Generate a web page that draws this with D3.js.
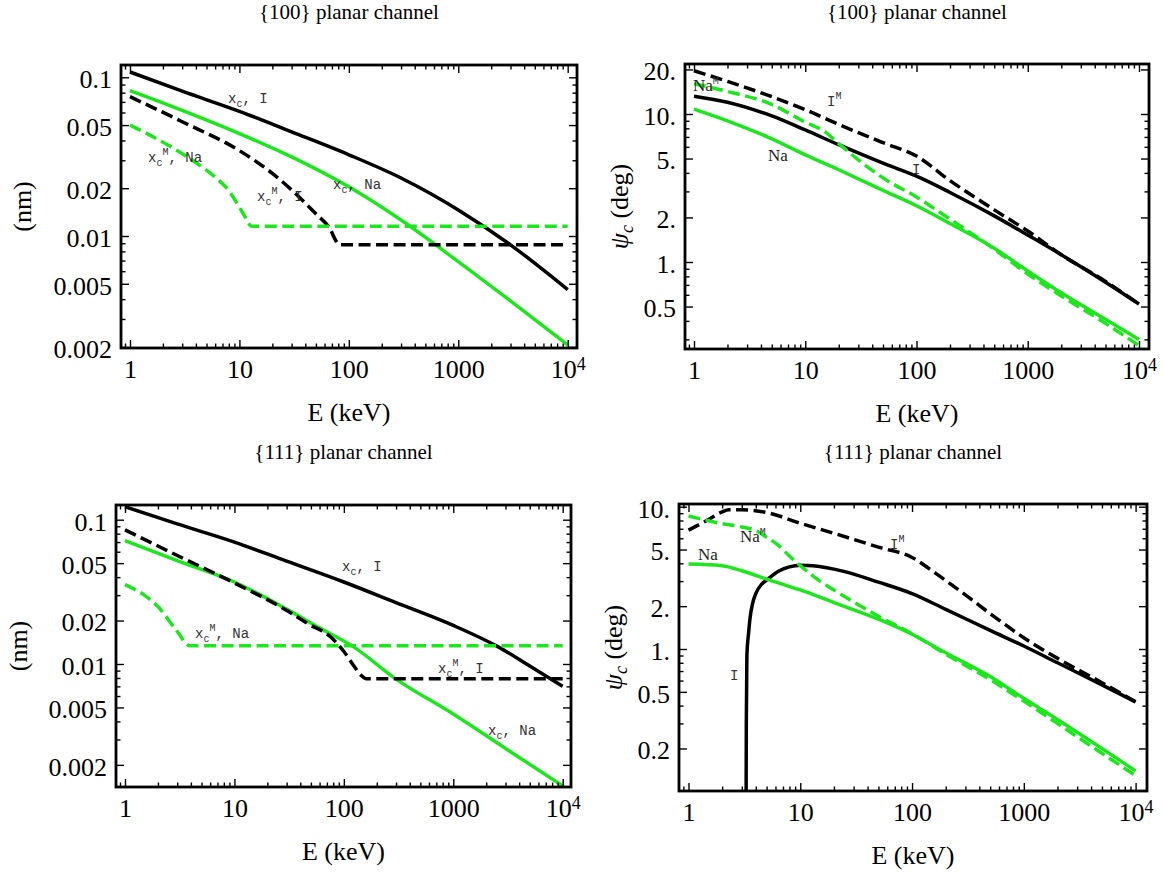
<!DOCTYPE html>
<html><head><meta charset="utf-8">
<script src="https://cdn.jsdelivr.net/npm/d3@7"></script>
<style>body{margin:0;background:#fff}svg{display:block}</style>
</head><body>
<svg id="chart" width="1164" height="879"></svg>
<script>
// ---------------- DATA ----------------
const titles = ["{100} planar channel", "{100} planar channel", "{111} planar channel", "{111} planar channel"];
const xTickValues = [1, 10, 100, 1000, 10000];
const xTickLabels = ["1", "10", "100", "1000", "10^4"];
const yTicksNm = [0.1, 0.05, 0.02, 0.01, 0.005, 0.002];
const yTickLabelsNm = ["0.1", "0.05", "0.02", "0.01", "0.005", "0.002"];
const yTicksDeg100 = [20, 10, 5, 2, 1, 0.5];
const yTickLabelsDeg100 = ["20.", "10.", "5.", "2.", "1.", "0.5"];
const yTicksDeg111 = [10, 5, 2, 1, 0.5, 0.2];
const yTickLabelsDeg111 = ["10.", "5.", "2.", "1.", "0.5", "0.2"];

// {100}: critical distances (nm)
const xcI100_E = [1, 3, 10, 30, 100, 300, 1000, 3000, 10000];
const xcI100_v = [0.108, 0.0817, 0.061, 0.0453, 0.0325, 0.0232, 0.0146, 0.0088, 0.0046];
const xcNa100_E = [1, 3, 10, 30, 100, 300, 1000, 3000, 10000];
const xcNa100_v = [0.0824, 0.0619, 0.0442, 0.0315, 0.0204, 0.0126, 0.0069, 0.0039, 0.00206];
const xcMI100_E = [1, 3, 10, 20, 30, 50, 65, 83, 10000];
const xcMI100_v = [0.0755, 0.0525, 0.0345, 0.0248, 0.0195, 0.0138, 0.0115, 0.0088, 0.0088];
const xcMNa100_E = [1, 2, 4, 6, 8, 10, 11, 13, 10000];
const xcMNa100_v = [0.05, 0.039, 0.029, 0.0235, 0.0193, 0.0152, 0.0136, 0.0115, 0.0115];

// {100}: critical angles (deg)
const psiI100_E = [1, 2, 5, 10, 20, 50, 100, 200, 500, 1000, 2000, 5000, 10000];
const psiI100_v = [13.2, 12.0, 9.7, 7.8, 6.2, 4.65, 3.8, 2.95, 2.05, 1.52, 1.12, 0.73, 0.52];
const psiNa100_E = [1, 2, 5, 10, 20, 50, 100, 200, 500, 1000, 2000, 5000, 10000];
const psiNa100_v = [10.8, 9.0, 6.8, 5.3, 4.2, 3.05, 2.4, 1.82, 1.24, 0.87, 0.62, 0.41, 0.30];
const psiIM100_E = [1, 2, 5, 10, 20, 50, 100, 200, 500, 1000, 2000, 5000, 10000];
const psiIM100_v = [19.6, 16.6, 13.1, 10.7, 8.5, 6.4, 5.2, 3.55, 2.25, 1.62, 1.12, 0.74, 0.52];
const psiNaM100_E = [1, 2, 5, 10, 15, 20, 30, 50, 100, 200, 500, 1000, 2000, 5000, 10000];
const psiNaM100_v = [16, 14.2, 11.6, 8.8, 7.6, 6.3, 4.9, 3.7, 2.75, 1.95, 1.22, 0.83, 0.59, 0.385, 0.272];

// {111}: critical distances (nm)
const xcI111_E = [1, 3, 10, 30, 100, 300, 1000, 2500, 5000, 10000];
const xcI111_v = [0.123, 0.0935, 0.070, 0.0516, 0.037, 0.0266, 0.0185, 0.0133, 0.0097, 0.0070];
const xcNa111_E = [1, 3, 10, 30, 60, 120, 305, 1000, 3000, 10000];
const xcNa111_v = [0.0717, 0.052, 0.037, 0.024, 0.0178, 0.0133, 0.0078, 0.0045, 0.0026, 0.00143];
const xcMI111_E = [1, 3.4, 10, 31, 47, 75, 100, 130, 145, 160, 10000];
const xcMI111_v = [0.085, 0.054, 0.0364, 0.0232, 0.019, 0.0155, 0.0122, 0.0092, 0.0083, 0.0079, 0.0079];
const xcMNa111_E = [1, 1.5, 2, 3, 3.9, 10000];
const xcMNa111_v = [0.0355, 0.030, 0.025, 0.0168, 0.0134, 0.0134];

// {111}: critical angles (deg)
const psiI111_E = [3.27, 3.29, 3.33, 3.45, 3.55, 3.75, 4.0, 4.5, 5, 6.5, 8, 10, 13, 25, 50, 100, 200, 500, 1000, 2000, 5000, 10000];
const psiI111_v = [0.05, 0.3, 0.91, 1.3, 1.64, 2.1, 2.45, 2.85, 3.05, 3.55, 3.78, 3.88, 3.85, 3.5, 2.95, 2.45, 1.9, 1.35, 1.05, 0.8, 0.56, 0.425];
const psiIM111_E = [1, 1.5, 2, 2.3, 3, 5, 10, 20, 50, 100, 163, 300, 566, 1000, 2000, 5000, 10000];
const psiIM111_v = [6.85, 8.1, 9.2, 9.5, 9.5, 9.1, 7.65, 6.5, 5.2, 4.4, 3.4, 2.4, 1.65, 1.2, 0.86, 0.58, 0.425];
const psiNa111_E = [1, 2, 3, 5, 10, 20, 50, 100, 200, 500, 1000, 2000, 5000, 10000];
const psiNa111_v = [3.95, 3.85, 3.55, 3.1, 2.6, 2.12, 1.62, 1.27, 0.94, 0.64, 0.45, 0.32, 0.2, 0.139];
const psiNaM111_E = [1, 2, 3, 4, 5, 6.3, 8, 10, 15, 20, 50, 100, 200, 500, 1000, 2000, 5000, 10000];
const psiNaM111_v = [8.6, 7.6, 7.2, 6.8, 6.1, 5.4, 4.5, 3.85, 3.0, 2.6, 1.7, 1.28, 0.92, 0.61, 0.43, 0.3, 0.185, 0.129];

// ---------------- STYLE / LAYOUT ----------------
const GREEN = "#1ee61e";
const BLACK = "#000";
const SERIF = "'Liberation Serif','Times New Roman',serif";
const MONO = "'Liberation Mono','Courier New',monospace";

const zip = (E, v) => E.map((e, i) => ({E: e, v: v[i]}));

const panels = [
  {frame: [121, 577, 65, 348], xa: [130, 567.7], ya: [0.1, 77.3, 0.01, 236],
   yTicks: yTicksNm, yLabels: yTickLabelsNm, ylab: "nm", ylabX: 31, titleY: 19,
   series: [
     {d: zip(xcI100_E, xcI100_v), c: BLACK, dash: false},
     {d: zip(xcNa100_E, xcNa100_v), c: GREEN, dash: false},
     {d: zip(xcMI100_E, xcMI100_v), c: BLACK, dash: true},
     {d: zip(xcMNa100_E, xcMNa100_v), c: GREEN, dash: true}],
   labels: [
     {x: 228, y: 103, parts: [{t: "x"}, {t: "c", sub: 1}, {t: ", I"}]},
     {x: 148, y: 162, parts: [{t: "x"}, {t: "c", sub: 1}, {t: "M", sup: 1}, {t: ", Na"}]},
     {x: 257, y: 201, parts: [{t: "x"}, {t: "c", sub: 1}, {t: "M", sup: 1}, {t: ", I"}]},
     {x: 333, y: 189, parts: [{t: "x"}, {t: "c", sub: 1}, {t: ", Na"}]}]},
  {frame: [685, 1149, 64, 349], xa: [694, 1139], ya: [10, 114, 1, 262],
   yTicks: yTicksDeg100, yLabels: yTickLabelsDeg100, ylab: "psi", ylabX: 628, titleY: 19,
   series: [
     {d: zip(psiI100_E, psiI100_v), c: BLACK, dash: false},
     {d: zip(psiNa100_E, psiNa100_v), c: GREEN, dash: false},
     {d: zip(psiIM100_E, psiIM100_v), c: BLACK, dash: true},
     {d: zip(psiNaM100_E, psiNaM100_v), c: GREEN, dash: true}],
   labels: [
     {x: 693, y: 91, parts: [{t: "Na", serif: 1}, {t: "M", sup: 1}]},
     {x: 827, y: 106, parts: [{t: "I"}, {t: "M", sup: 1}]},
     {x: 768, y: 161, parts: [{t: "Na", serif: 1}]},
     {x: 912, y: 174, parts: [{t: "I"}]}]},
  {frame: [116, 571, 505, 787], xa: [125, 562.7], ya: [0.1, 519.7, 0.01, 664],
   yTicks: yTicksNm, yLabels: yTickLabelsNm, ylab: "nm", ylabX: 27, titleY: 459,
   series: [
     {d: zip(xcI111_E, xcI111_v), c: BLACK, dash: false},
     {d: zip(xcNa111_E, xcNa111_v), c: GREEN, dash: false},
     {d: zip(xcMI111_E, xcMI111_v), c: BLACK, dash: true},
     {d: zip(xcMNa111_E, xcMNa111_v), c: GREEN, dash: true}],
   labels: [
     {x: 342, y: 571, parts: [{t: "x"}, {t: "c", sub: 1}, {t: ", I"}]},
     {x: 195, y: 638, parts: [{t: "x"}, {t: "c", sub: 1}, {t: "M", sup: 1}, {t: ", Na"}]},
     {x: 438, y: 673, parts: [{t: "x"}, {t: "c", sub: 1}, {t: "M", sup: 1}, {t: ", I"}]},
     {x: 488, y: 735, parts: [{t: "x"}, {t: "c", sub: 1}, {t: ", Na"}]}]},
  {frame: [679, 1147, 504, 791], xa: [688.5, 1135.6], ya: [10, 506.7, 1, 649],
   yTicks: yTicksDeg111, yLabels: yTickLabelsDeg111, ylab: "psi", ylabX: 622, titleY: 459,
   series: [
     {d: zip(psiI111_E, psiI111_v), c: BLACK, dash: false},
     {d: zip(psiNa111_E, psiNa111_v), c: GREEN, dash: false},
     {d: zip(psiIM111_E, psiIM111_v), c: BLACK, dash: true},
     {d: zip(psiNaM111_E, psiNaM111_v), c: GREEN, dash: true}],
   labels: [
     {x: 740, y: 542, parts: [{t: "Na", serif: 1}, {t: "M", sup: 1}]},
     {x: 698, y: 560, parts: [{t: "Na", serif: 1}]},
     {x: 890, y: 549, parts: [{t: "I"}, {t: "M", sup: 1}]},
     {x: 730, y: 680, parts: [{t: "I"}]}]}
];

// ---------------- DRAW ----------------
const svg = d3.select("#chart");
const defs = svg.append("defs");

panels.forEach((p, pi) => {
  const [fx0, fx1, fy0, fy1] = p.frame;
  const x = d3.scaleLog().domain([1, 10000]).range(p.xa);
  x.domain([x.invert(fx0), x.invert(fx1)]).range([fx0, fx1]);
  const y = d3.scaleLog().domain([p.ya[0], p.ya[2]]).range([p.ya[1], p.ya[3]]);
  y.domain([y.invert(fy1), y.invert(fy0)]).range([fy1, fy0]);

  const g = svg.append("g");

  g.append("text").attr("x", (fx0 + fx1) / 2).attr("y", p.titleY)
    .attr("text-anchor", "middle").attr("font-family", SERIF).attr("font-size", 21)
    .text(titles[pi]);

  defs.append("clipPath").attr("id", "clip" + pi)
    .append("rect").attr("x", fx0).attr("y", fy0).attr("width", fx1 - fx0).attr("height", fy1 - fy0);

  const line = d3.line().x(d => x(d.E)).y(d => y(d.v)).curve(d3.curveMonotoneX);
  const cg = g.append("g").attr("clip-path", `url(#clip${pi})`);
  p.series.forEach(s => {
    cg.append("path").attr("d", line(s.d)).attr("fill", "none")
      .attr("stroke", s.c).attr("stroke-width", 3.5)
      .attr("stroke-dasharray", s.dash ? "12,5.5" : null)
      .attr("stroke-linecap", "butt").attr("stroke-linejoin", "round");
  });

  const xMinor = x.ticks().filter(v => !xTickValues.some(m => Math.abs(m - v) / m < 1e-9));
  const yMinor = y.ticks().filter(v => !p.yTicks.some(m => Math.abs(m - v) / m < 1e-9));
  const styleAxis = sel => { sel.select(".domain").remove(); sel.selectAll(".tick line").attr("stroke", "#000").attr("stroke-width", 1.4); };

  const minorLen = -4.5, majorLen = -8;
  g.append("g").attr("transform", `translate(0,${fy1})`)
    .call(d3.axisBottom(x).tickValues(xMinor).tickSizeInner(minorLen).tickSizeOuter(0).tickFormat(""))
    .call(styleAxis);
  g.append("g").attr("transform", `translate(0,${fy0})`)
    .call(d3.axisTop(x).tickValues(xMinor).tickSizeInner(minorLen).tickSizeOuter(0).tickFormat(""))
    .call(styleAxis);
  g.append("g").attr("transform", `translate(${fx0},0)`)
    .call(d3.axisLeft(y).tickValues(yMinor).tickSizeInner(minorLen).tickSizeOuter(0).tickFormat(""))
    .call(styleAxis);
  g.append("g").attr("transform", `translate(${fx1},0)`)
    .call(d3.axisRight(y).tickValues(yMinor).tickSizeInner(minorLen).tickSizeOuter(0).tickFormat(""))
    .call(styleAxis);

  const xb = g.append("g").attr("transform", `translate(0,${fy1})`)
    .call(d3.axisBottom(x).tickValues(xTickValues).tickSizeInner(majorLen).tickSizeOuter(0)
      .tickPadding(12).tickFormat((d, i) => xTickLabels[i]))
    .call(styleAxis);
  xb.selectAll("text").attr("font-family", SERIF).attr("font-size", 26).attr("fill", "#000");
  xb.selectAll(".tick text").filter(d => xTickLabels[xTickValues.indexOf(d)].includes("^")).each(function(d) {
    const lab = xTickLabels[xTickValues.indexOf(d)].split("^");
    const t = d3.select(this).text(null);
    t.append("tspan").text(lab[0]);
    t.append("tspan").text(lab[1]).attr("dy", "-0.45em").attr("font-size", 18);
  });
  g.append("g").attr("transform", `translate(0,${fy0})`)
    .call(d3.axisTop(x).tickValues(xTickValues).tickSizeInner(majorLen).tickSizeOuter(0).tickFormat(""))
    .call(styleAxis);
  const yl = g.append("g").attr("transform", `translate(${fx0},0)`)
    .call(d3.axisLeft(y).tickValues(p.yTicks).tickSizeInner(majorLen).tickSizeOuter(0)
      .tickPadding(9).tickFormat((d, i) => p.yLabels[i]))
    .call(styleAxis);
  yl.selectAll("text").attr("font-family", SERIF).attr("font-size", 26).attr("fill", "#000").attr("dy", "0.4em");
  g.append("g").attr("transform", `translate(${fx1},0)`)
    .call(d3.axisRight(y).tickValues(p.yTicks).tickSizeInner(majorLen).tickSizeOuter(0).tickFormat(""))
    .call(styleAxis);

  g.append("rect").attr("x", fx0).attr("y", fy0).attr("width", fx1 - fx0).attr("height", fy1 - fy0)
    .attr("fill", "none").attr("stroke", "#000").attr("stroke-width", 2.8);

  g.append("text").attr("x", (fx0 + fx1) / 2).attr("y", fy1 + 73)
    .attr("text-anchor", "middle").attr("font-family", SERIF).attr("font-size", 26)
    .text("E (keV)");
  const yt = g.append("text")
    .attr("transform", `translate(${p.ylabX},${(fy0 + fy1) / 2}) rotate(-90)`)
    .attr("text-anchor", "middle").attr("font-family", SERIF).attr("font-size", 26);
  if (p.ylab === "nm") {
    yt.text("(nm)");
  } else {
    yt.append("tspan").text("\u03C8").attr("font-style", "italic");
    yt.append("tspan").text("c").attr("font-style", "italic").attr("font-size", 18).attr("dy", "0.3em");
    yt.append("tspan").text(" (deg)").attr("dy", "-0.2em");
  }

  p.labels.forEach(lab => {
    const t = g.append("text").attr("x", lab.x).attr("y", lab.y).attr("fill", "#333");
    let cur = 0;
    lab.parts.forEach(part => {
      const off = part.sub ? 3.5 : part.sup ? -7 : 0;
      const ts = t.append("tspan").text(part.t)
        .attr("font-family", part.serif ? SERIF : MONO)
        .attr("font-size", part.sub || part.sup ? 10 : (part.serif ? 17 : 14))
        .attr("fill", part.serif ? "#222" : "#333");
      if (off !== cur) ts.attr("dy", off - cur);
      cur = off;
    });
  });
});
</script>
</body></html>
